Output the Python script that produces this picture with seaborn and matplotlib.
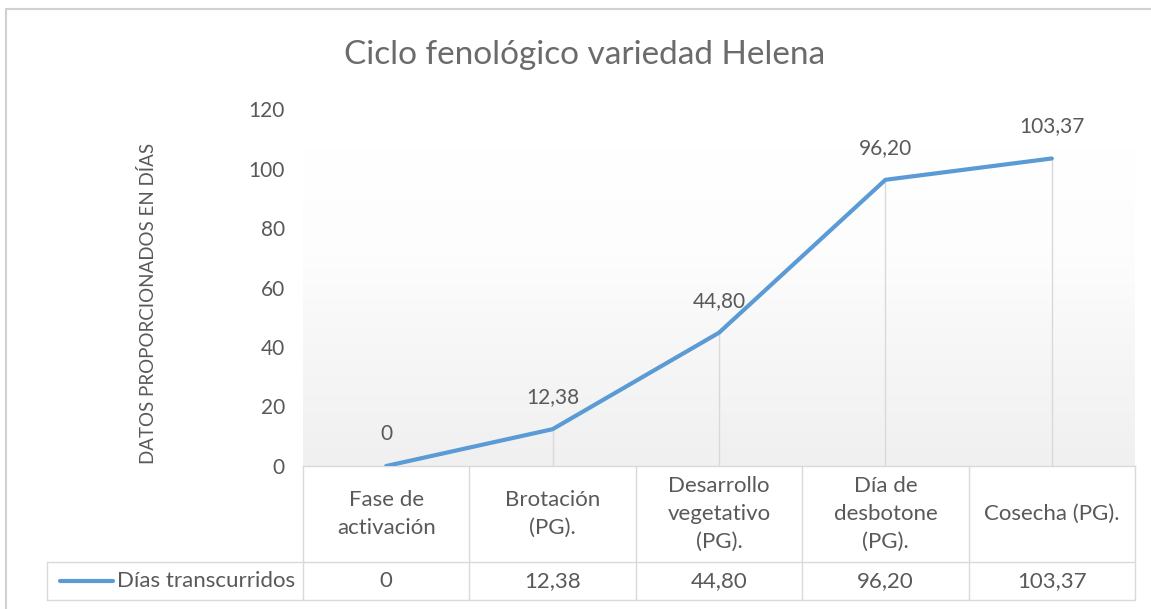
# Ciclo fenológico variedad Helena - line chart with data table underneath

import numpy as np
import pandas as pd
import matplotlib
matplotlib.use('Agg')
import matplotlib.pyplot as plt
from matplotlib.colors import LinearSegmentedColormap
from matplotlib.lines import Line2D
import matplotlib.transforms as mtrans
import seaborn as sb

# Data
categories = ["Fase de\nactivación", "Brotación\n(PG).", "Desarrollo\nvegetativo\n(PG).",
              "Día de\ndesbotone\n(PG).", "Cosecha (PG)."]
dias = [0, 12.38, 44.80, 96.20, 103.37]
dias_labels = ["0", "12,38", "44,80", "96,20", "103,37"]
serie_name = "Días transcurridos"
y_ticks = [0, 20, 40, 60, 80, 100, 120]

sb.set_theme(style="white")
plt.rcParams['font.family'] = ['Lato', 'DejaVu Sans']

gray_txt = "#595959"
grid_col = "#d9d9d9"
blue = "#5B9BD5"

W, H = 1151, 609
fig = plt.figure(figsize=(W / 100, H / 100), dpi=100)
fig.patch.set_facecolor("white")

# plot area in pixels
x0, x1, ytop, ybot = 303, 1135, 109, 466
ax = fig.add_axes([x0 / W, (H - ybot) / H, (x1 - x0) / W, (ybot - ytop) / H])
ax.set_xlim(-0.5, len(categories) - 0.5)
ax.set_ylim(0, 120)

# gradient background of plot area (white on top, light grey at the bottom)
cmap = LinearSegmentedColormap.from_list("grad", ["#ffffff", "#fdfdfd", "#f6f6f6", "#f0f0f0"])
grad = np.linspace(0, 1, 512).reshape(-1, 1)
ax.imshow(grad, cmap=cmap, aspect="auto", extent=(-0.5, len(categories) - 0.5, 0, 107),
          origin="upper", zorder=0, interpolation="bilinear")

df = pd.DataFrame({"pos": np.arange(len(categories)), "dias": dias})

# drop lines
ax.vlines(df["pos"], 0, df["dias"], color=grid_col, lw=1, zorder=1)

sb.lineplot(data=df, x="pos", y="dias", color=blue, lw=3, ax=ax, zorder=3,
            solid_capstyle="round")

for p, v, lab in zip(df["pos"], df["dias"], dias_labels):
    ax.annotate(lab, (p, v), xytext=(0, 32), textcoords="offset pixels",
                ha="center", va="center", fontsize=15, color=gray_txt)

ax.set_ylim(0, 120)
ax.set_yticks(y_ticks)
ax.set_yticklabels([str(t) for t in y_ticks], fontsize=15, color=gray_txt)
ax.tick_params(axis="y", length=0, pad=13)
ax.set_xticks([])
ax.set_xlabel("")
ax.set_ylabel("DATOS PROPORCIONADOS EN DÍAS", fontsize=13.5, color=gray_txt)
ax.yaxis.set_label_coords((157 - x0) / (x1 - x0), (ybot - 303) / (ybot - ytop))
for s in ["top", "right", "left"]:
    ax.spines[s].set_visible(False)
ax.spines["bottom"].set_color(grid_col)
ax.spines["bottom"].set_linewidth(1)

fig.suptitle("Ciclo fenológico variedad Helena", x=585 / W, y=1 - 55 / H, va="center",
             fontsize=24, color="#6b6b6b")

# data table under the axis
trans = mtrans.blended_transform_factory(ax.transData, fig.transFigure)
row1 = 1 - 562 / H
row2 = 1 - 600 / H
y_axis = 1 - ybot / H
lkw = dict(color=grid_col, lw=1, zorder=5)
edges = np.arange(len(categories) + 1) - 0.5
for e in edges:
    fig.add_artist(Line2D([e, e], [y_axis, row2], transform=trans, **lkw))
fig.add_artist(Line2D([47 / W, x1 / W], [row1, row1], transform=fig.transFigure, **lkw))
fig.add_artist(Line2D([47 / W, x1 / W], [row2, row2], transform=fig.transFigure, **lkw))
fig.add_artist(Line2D([47 / W, 47 / W], [row1, row2], transform=fig.transFigure, **lkw))

for p, cat, lab in zip(df["pos"], categories, dias_labels):
    fig.text(p, (y_axis + row1) / 2, cat, transform=trans, ha="center", va="center",
             fontsize=16, color=gray_txt, linespacing=1.5)
    fig.text(p, (row1 + row2) / 2, lab, transform=trans, ha="center", va="center",
             fontsize=16, color=gray_txt)

ymid = (row1 + row2) / 2
fig.add_artist(Line2D([60 / W, 113 / W], [ymid, ymid], transform=fig.transFigure,
                      color=blue, lw=3, solid_capstyle="round"))
fig.text(117 / W, ymid, serie_name, ha="left", va="center", fontsize=16, color=gray_txt)

# chart outer border (left and top)
fig.add_artist(Line2D([6 / W, 6 / W], [1 - 9 / H, 0], transform=fig.transFigure, color="#d0d0d0", lw=1.5))
fig.add_artist(Line2D([6 / W, 1], [1 - 9 / H, 1 - 9 / H], transform=fig.transFigure, color="#d0d0d0", lw=1.5))

plt.savefig("out.png", dpi=100)
